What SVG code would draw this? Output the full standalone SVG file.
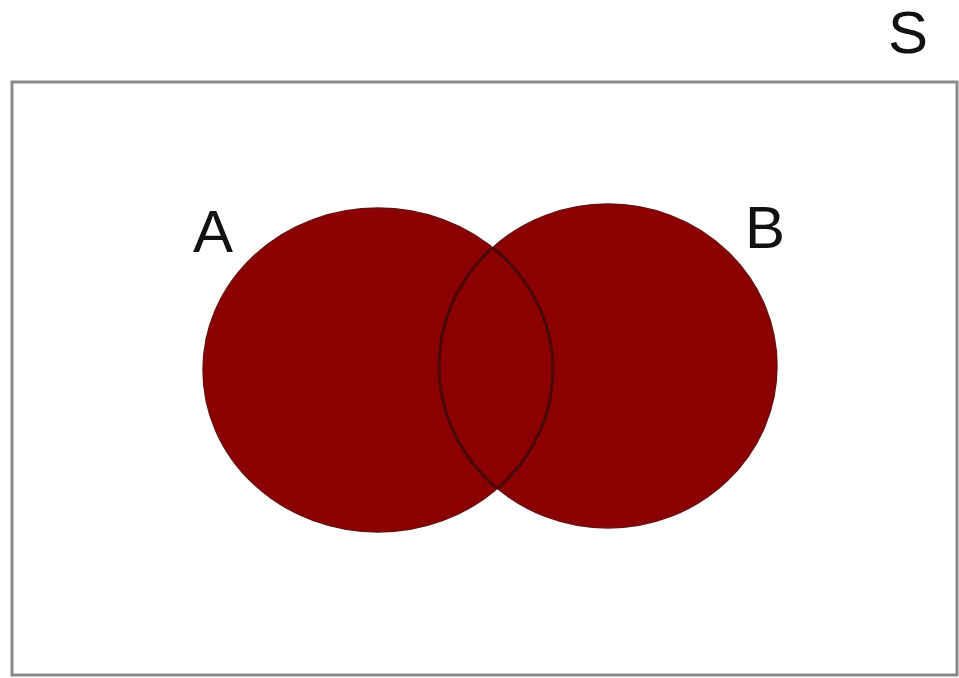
<svg xmlns="http://www.w3.org/2000/svg" width="959" height="678" viewBox="0 0 959 678">
<style>
.lbl{font-family:"Liberation Sans",Arial,sans-serif;font-size:60px;fill:#111}
.fill{fill:#8b0000;stroke:#6a1010;stroke-width:1.5}
.edge{fill:none;stroke:#4a0808;stroke-width:3}
</style>
<defs>
<clipPath id="clipA"><ellipse cx="378" cy="370" rx="175" ry="162"/></clipPath>
<clipPath id="clipB"><ellipse cx="608" cy="366" rx="169" ry="162"/></clipPath>
</defs>
<rect width="959" height="678" fill="#fff"/>
<g id="universe">
<rect x="12" y="82" width="945" height="593" fill="#fff" stroke="#8a8a8a" stroke-width="3"/>
<text class="lbl" x="908" y="53" text-anchor="middle">S</text>
</g>
<g id="setA">
<ellipse class="fill" cx="378" cy="370" rx="175" ry="162"/>
<text class="lbl" x="213" y="252" text-anchor="middle">A</text>
</g>
<g id="setB">
<ellipse class="fill" cx="608" cy="366" rx="169" ry="162"/>
<text class="lbl" x="745" y="248">B</text>
</g>
<g id="intersection">
<ellipse class="edge" cx="378" cy="370" rx="175" ry="162" clip-path="url(#clipB)"/>
<ellipse class="edge" cx="608" cy="366" rx="169" ry="162" clip-path="url(#clipA)"/>
</g>
</svg>
